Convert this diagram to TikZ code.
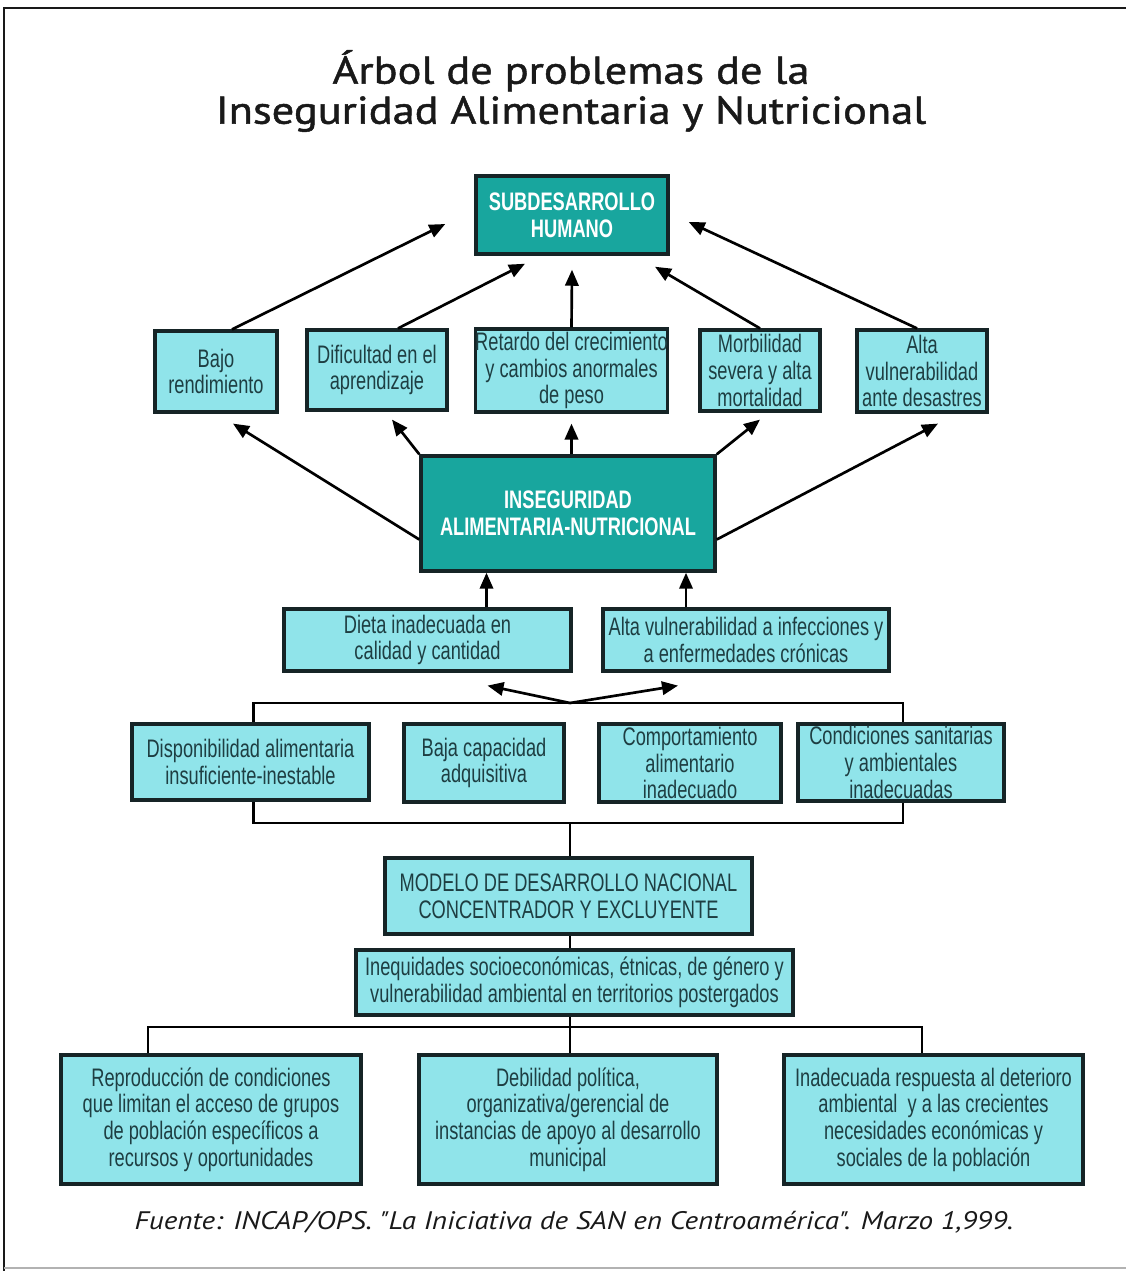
\documentclass[tikz,border=0pt]{standalone}
\usepackage{fontspec}
\setmainfont{Liberation Sans}
\newfontfamily\boxfont[FakeStretch=0.72]{Liberation Sans}
\newfontfamily\titlefont[FakeStretch=1.15,FakeBold=1.2]{PT Sans}
\newfontfamily\srcfont[FakeStretch=1.15]{PT Sans}
\usetikzlibrary{arrows.meta,calc}
\definecolor{teal1}{RGB}{24,166,158}
\definecolor{cyan1}{RGB}{144,228,234}
\definecolor{bord}{RGB}{22,36,38}
\definecolor{txt}{RGB}{30,62,66}
\definecolor{ink}{RGB}{25,25,25}
\tikzset{
 lbox/.style={draw=bord, line width=2.4pt, fill=cyan1, text=txt, font=\boxfont\fontsize{19}{20}\selectfont, align=center, inner sep=0pt},
 dbox/.style={draw=bord, line width=2.6pt, fill=teal1, text=white, font=\boxfont\bfseries\fontsize{19}{20}\selectfont, align=center, inner sep=0pt},
 arr/.style={line width=2pt, -{Triangle[length=12pt,width=10pt]}},
 conn/.style={line width=1.8pt},
}
\newcommand\mkbox[7]{\node[#1, minimum width={(#5-#3)*0.75pt}, minimum height={(#6-#4)*0.75pt}] (#2) at ({(#3+#5)/2},{(#4+#6)/2}) {#7};}
\begin{document}
\begin{tikzpicture}[x=0.75pt,y=-0.75pt]
\useasboundingbox (0,0) rectangle (1126,1271);
\fill[white] (0,0) rectangle (1126,1271);
\draw[line width=1.2pt, ink] (4,1271) -- (4,8) -- (1126,8);
\draw[line width=0.8pt, black!30] (4,1268) -- (1126,1268);

\node[font=\titlefont\fontsize{29}{30}\selectfont, align=center, text=ink] (title) at (571,91) {Árbol de problemas de la\\Inseguridad Alimentaria y Nutricional};

\mkbox{dbox}{sub}{476}{176}{668}{254}{SUBDESARROLLO\\HUMANO}

\mkbox{lbox}{bajo}{155}{331}{277}{412}{Bajo\\rendimiento}
\mkbox{lbox}{dif}{307}{330}{447}{410}{Dificultad en el\\aprendizaje}
\mkbox{lbox}{ret}{476}{329}{667}{412}{Retardo del crecimiento\\y cambios anormales\\de peso}
\mkbox{lbox}{mor}{700}{330}{820}{411}{Morbilidad\\severa y alta\\mortalidad}
\mkbox{lbox}{alv}{857}{330}{987}{412}{Alta\\vulnerabilidad\\ante desastres}

\mkbox{dbox}{ins}{421}{456}{715}{571}{INSEGURIDAD\\ALIMENTARIA-NUTRICIONAL}

\mkbox{lbox}{die}{284}{609}{571}{671}{Dieta inadecuada en\\calidad y cantidad}
\mkbox{lbox}{inf}{603}{609}{889}{671}{Alta vulnerabilidad a infecciones y\\a enfermedades crónicas}

\mkbox{lbox}{dis}{132}{724}{369}{800}{Disponibilidad alimentaria\\insuficiente-inestable}
\mkbox{lbox}{baj}{404}{724}{564}{802}{Baja capacidad\\adquisitiva}
\mkbox{lbox}{com}{599}{724}{781}{802}{Comportamiento\\alimentario\\inadecuado}
\mkbox{lbox}{con}{798}{724}{1004}{801}{Condiciones sanitarias\\y ambientales\\inadecuadas}

\mkbox{lbox}{mod}{385}{858}{752}{934}{MODELO DE DESARROLLO NACIONAL\\CONCENTRADOR Y EXCLUYENTE}
\mkbox{lbox}{ineq}{356}{950}{793}{1015}{Inequidades socioeconómicas, étnicas, de género y\\vulnerabilidad ambiental en territorios postergados}

\mkbox{lbox}{rep}{61}{1055}{361}{1184}{Reproducción de condiciones\\que limitan el acceso de grupos\\de población específicos a\\recursos y oportunidades}
\mkbox{lbox}{deb}{419}{1055}{717}{1184}{Debilidad política,\\organizativa/gerencial de\\instancias de apoyo al desarrollo\\municipal}
\mkbox{lbox}{ina}{784}{1055}{1083}{1184}{Inadecuada respuesta al deterioro\\ambiental \ y a las crecientes\\necesidades económicas y\\sociales de la población}

\node[font=\srcfont\itshape\fontsize{19}{22}\selectfont, text=ink] (src) at (574,1222) {Fuente: INCAP/OPS. "La Iniciativa de SAN en Centroamérica". Marzo 1,999.};

% arrows to SUBDESARROLLO
\draw[arr] ([shift={(16,0)}]bajo.north) -- ([shift={(-29,9)}]sub.west);
\draw[arr] ([shift={(21,0)}]dif.north) -- ([shift={(-47,8)}]sub.south);
\draw[arr] (ret.north) -- ([shift={(0,14)}]sub.south);
\draw[arr] (mor.north) -- ([shift={(83,11)}]sub.south);
\draw[arr] ([shift={(-5,0)}]alv.north) -- ([shift={(19,7)}]sub.east);

% arrows from INSEGURIDAD
\draw[arr] ([shift={(0,26)}]ins.west) -- ([shift={(17,10)}]bajo.south);
\draw[arr] (ins.north west) -- ([shift={(15,8)}]dif.south);
\draw[arr] (ret.south |- ins.north) -- ([shift={(0,10)}]ret.south);
\draw[arr] (ins.north east) -- ([shift={(0,7)}]mor.south);
\draw[arr] ([shift={(0,26)}]ins.east) -- ([shift={(16,10)}]alv.south);

% arrows to INSEGURIDAD
\draw[arr] ([shift={(59,0)}]die.north) -- ([shift={(59,0)}]die.north |- ins.south);
\draw[arr] ([shift={(-60,0)}]inf.north) -- ([shift={(-60,0)}]inf.north |- ins.south);

% bracket and double arrow
\coordinate (apex) at (570,703);
\coordinate (low) at (570,823);
\coordinate (bb) at (570,1027);
\draw[arr] (apex) -- ([shift={(60,13)}]die.south);
\draw[arr] (apex) -- ([shift={(-68,13)}]inf.south);
\draw[conn] ([shift={(3,0)}]dis.north) |- (apex) -| ([shift={(2,0)}]con.north);
\draw[conn] ([shift={(3,0)}]dis.south) |- (low) -| ([shift={(2,0)}]con.south);
\draw[conn] (low) -- (low |- mod.north);
\draw[conn] (low |- mod.south) -- (low |- ineq.north);
\draw[conn] (low |- ineq.south) -- (bb);
\draw[conn] ([shift={(-63,0)}]rep.north) |- (bb) -| ([shift={(-11.5,0)}]ina.north);
\draw[conn] (bb) -- (bb |- deb.north);
\end{tikzpicture}
\end{document}
